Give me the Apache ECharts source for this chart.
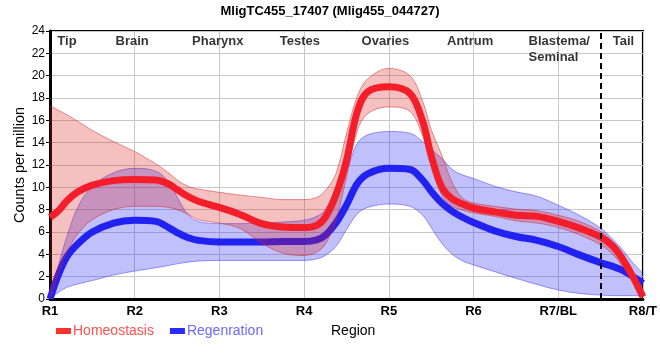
<!DOCTYPE html>
<html><head><meta charset="utf-8">
<script src="https://cdn.jsdelivr.net/npm/echarts@6/dist/echarts.min.js"></script>
<style>html,body{margin:0;padding:0;background:#fff}#c{width:660px;height:360px}</style>
</head><body><div id="c"></div>
<script>
// Region tick labels (x = 0..7)
var regionTicks = ['R1','R2','R3','R4','R5','R6','R7/BL','R8/T'];
var tissueNames = ['Tip','Brain','Pharynx','Testes','Ovaries','Antrum','Blastema/\nSeminal','Tail'];
// sample positions along the body axis
var xs = [0,0.1,0.2,0.33,0.5,0.75,1.0,1.25,1.4,1.5,1.625,1.75,2.0,2.25,2.5,2.75,3.0,3.15,3.25,3.375,3.5,3.625,3.75,4.0,4.25,4.4,4.5,4.625,4.75,4.875,5.0,5.25,5.5,5.75,6.0,6.25,6.5,6.65,6.75,6.875,7.0];
// Homeostasis: mean, upper, lower
var homeoMean  = [7.3,7.9,8.8,9.6,10.2,10.6,10.7,10.65,10.3,9.8,9.2,8.75,8.2,7.55,6.75,6.45,6.4,6.6,7.3,9.3,12.4,16.7,18.55,19.0,18.4,15.9,12.85,10.0,8.95,8.5,8.15,7.8,7.5,7.4,6.95,6.35,5.55,4.7,3.7,2.1,0.2];
var homeoUpper = [17.3,16.9,16.5,15.9,15.1,14.1,13.2,12.1,11.3,10.65,10.1,9.85,9.55,9.3,9.1,8.9,8.9,9.1,9.7,11.2,14.8,18.1,19.7,20.65,20.0,17.7,15.2,12.9,10.4,9.0,8.6,8.3,8.05,7.9,7.5,6.95,6.05,5.1,4.1,2.5,0.2];
var homeoLower = [0,2.3,4.2,5.85,7.1,8.0,8.3,8.3,8.2,8.0,7.6,7.1,6.8,6.3,5.0,4.1,3.9,4.2,4.9,7.0,10.9,15.0,16.6,17.2,16.8,14.6,12.2,9.3,8.3,7.95,7.7,7.4,7.0,6.8,6.4,5.75,4.85,3.95,3.0,1.6,0];
// Regeneration: mean, upper, lower
var regenMean  = [0,2.2,3.8,4.95,6.0,6.8,7.05,6.95,6.4,5.95,5.5,5.25,5.1,5.1,5.1,5.15,5.15,5.3,5.7,6.8,8.4,10.3,11.2,11.7,11.6,10.65,9.65,8.6,7.85,7.3,6.85,6.1,5.6,5.25,4.7,3.95,3.25,2.9,2.6,2.05,1.4];
var regenUpper = [0,3.0,5.6,8.25,10.1,11.3,11.7,11.45,10.5,9.15,7.6,6.95,6.75,6.75,6.8,6.9,7.05,7.4,8.0,9.9,11.5,13.9,14.7,15.0,14.85,14.1,13.4,12.6,11.6,11.1,10.8,10.1,9.6,9.2,8.4,7.5,6.35,5.3,4.5,3.3,2.3];
var regenLower = [0,0.6,1.05,1.35,1.65,2.15,2.5,2.8,3.0,3.15,3.3,3.4,3.45,3.45,3.45,3.45,3.45,3.6,3.9,4.7,6.2,7.6,8.2,8.5,8.3,7.5,6.4,5.0,4.0,3.4,3.05,2.45,1.85,1.3,0.8,0.5,0.35,0.3,0.3,0.3,0.3];
var tissuePos = [0.2,0.97,1.98,2.95,3.96,4.96,5.65,6.77];
var boundaryX = 6.5;

// value first, position second (so that stacking happens on the value dimension)
function pts(a){ return xs.map(function(x,i){ return [a[i], x]; }); }
function diff(u,l){ return xs.map(function(x,i){ return [+(u[i]-l[i]).toFixed(3), x]; }); }

var SM = 0.35;
var RED='#f41e2a', BLUE='#2121f2';
var font = '"Liberation Sans",Arial,sans-serif';
var ENC = {x:1, y:0};

var chart = echarts.init(document.getElementById('c'), null, {renderer:'canvas'});

var series = [
  {name:'rb', type:'line', stack:'r', encode:ENC, data:pts(regenLower), smooth:SM, symbol:'none', silent:true,
   lineStyle:{width:1, color:'rgba(40,40,240,0.45)'}, z:1},
  {name:'rband', type:'line', stack:'r', encode:ENC, data:diff(regenUpper,regenLower), smooth:SM, symbol:'none', silent:true,
   lineStyle:{width:1, color:'rgba(40,40,240,0.45)'}, areaStyle:{color:'rgba(30,30,245,0.4)'}, z:1},
  {name:'Regenration', type:'line', encode:ENC, data:pts(regenMean), smooth:SM, symbol:'none',
   lineStyle:{width:7, color:BLUE}, itemStyle:{color:BLUE}, z:2},
  {name:'hb', type:'line', stack:'h', encode:ENC, data:pts(homeoLower), smooth:SM, symbol:'none', silent:true,
   lineStyle:{width:1, color:'rgba(210,40,40,0.5)'}, z:3},
  {name:'hband', type:'line', stack:'h', encode:ENC, data:diff(homeoUpper,homeoLower), smooth:SM, symbol:'none', silent:true,
   lineStyle:{width:1, color:'rgba(210,40,40,0.5)'}, areaStyle:{color:'rgba(220,30,30,0.4)'}, z:3},
  {name:'Homeostasis', type:'line', encode:ENC, data:pts(homeoMean), smooth:SM, symbol:'none',
   lineStyle:{width:7, color:RED}, itemStyle:{color:RED}, z:4,
   markLine:{silent:true, symbol:'none', label:{show:false},
     lineStyle:{color:'#000', type:[6,4], width:2},
     data:[{xAxis:boundaryX}]}},
  {name:'tissues', type:'scatter', symbolSize:0, silent:true, z:5,
   data: tissuePos.map(function(x,i){ return {value:[x,23.1], name:tissueNames[i],
     label:{align: i===6 ? 'left':'center', verticalAlign: i===6 ? 'top':'middle', offset: i===6 ? [0,-8] : [0,0]}}; }),
   label:{show:true, position:'inside', formatter:function(p){return p.name;},
     fontFamily:font, fontWeight:'bold', fontSize:13, color:'#000', lineHeight:16}}
];

chart.setOption({
  animation:false,
  backgroundColor:'#fff',
  title:{text:'MligTC455_17407 (Mlig455_044727)', left:'center', top:0,
    textStyle:{fontFamily:font, fontWeight:'bold', fontSize:13, color:'#000'}},
  grid:{left:50, right:10, top:31, bottom:61, show:true, borderColor:'#000', borderWidth:2},
  xAxis:{type:'value', min:0, max:7, interval:1,
    axisLine:{show:true, lineStyle:{color:'#000', width:3}},
    axisTick:{show:false},
    splitLine:{show:true, lineStyle:{color:'#c8c8c8', width:1}},
    axisLabel:{formatter:function(v){return regionTicks[Math.round(v)]||'';}, fontFamily:font, fontWeight:'bold', fontSize:13, color:'#000', margin:6}},
  yAxis:{type:'value', min:0, max:24, interval:2,
    name:'Counts per million', nameLocation:'middle', nameGap:23, nameRotate:90, nameMoveOverlap:false,
    nameTextStyle:{fontFamily:font, fontSize:14.5, color:'#000'},
    axisLine:{show:true, lineStyle:{color:'#000', width:3}},
    axisTick:{show:true, length:4, lineStyle:{color:'#000'}},
    splitLine:{show:true, lineStyle:{color:'#c8c8c8', width:1}},
    axisLabel:{fontFamily:font, fontSize:12, color:'#000', margin:5}},
  legend:{left:56, top:324, padding:0, itemWidth:15, itemHeight:6, itemGap:16, icon:'rect',
    data:[{name:'Homeostasis', itemStyle:{color:'#ff3030'}, textStyle:{color:'#ff5050'}},
          {name:'Regenration', itemStyle:{color:'#2b2bff'}, textStyle:{color:'#6a6aff'}}],
    textStyle:{fontFamily:font, fontSize:14, padding:[0,0,0,-3]}},
  graphic:[{type:'text', left:331, top:324, style:{text:'Region', font:'14px "Liberation Sans", Arial, sans-serif', fill:'#000'}}],
  series:series
});
</script></body></html>
